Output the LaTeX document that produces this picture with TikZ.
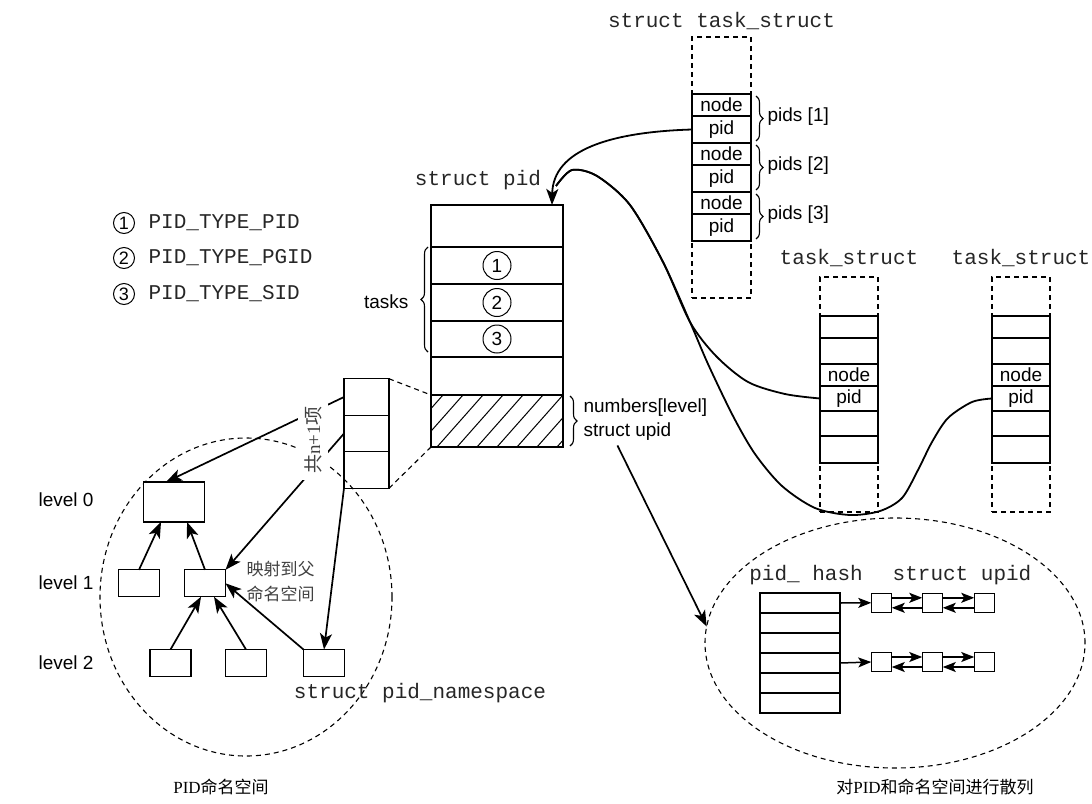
\documentclass[tikz,border=0pt]{standalone}
\usepackage{fontspec}
\setmainfont{Liberation Serif}
\setsansfont{Liberation Sans}
\setmonofont{Liberation Mono}
\newfontfamily\cjk{Noto Sans CJK SC}
\usetikzlibrary{arrows.meta,shapes.geometric,decorations.pathreplacing}

\newcommand{\lab}{\sffamily\fontsize{19}{22}\selectfont}
\newcommand{\ttcode}{\ttfamily\fontsize{21}{24}\selectfont}
\newcommand{\zh}{\cjk\fontsize{17}{25}\selectfont}

\tikzset{
  cell/.style={draw, fill=white, inner sep=0pt, outer sep=0pt, font=\lab},
  box/.style={draw, fill=white, minimum width=41pt, minimum height=27pt, inner sep=0pt, outer sep=0pt},
  dashbox/.style={draw, line width=1.1pt, dash pattern=on 5pt off 4pt, inner sep=0pt, outer sep=0pt},
  dashline/.style={line width=1.1pt, dash pattern=on 5pt off 4pt},
  code/.style={font=\ttcode, text=black!85, inner sep=0pt},
  circnum/.style={circle, draw, line width=1pt, minimum size=28pt, inner sep=0pt, font=\lab},
  legnum/.style={circle, draw, line width=1pt, minimum size=21pt, inner sep=0pt, font=\sffamily\fontsize{18}{18}\selectfont},
  brace/.style={decorate, decoration={brace, amplitude=7pt}, line width=1.1pt},
  arrowtip/.style={-{Stealth[length=16pt,width=12pt,inset=4pt]}},
  link/.style={line width=1.7pt, arrowtip},
  curve/.style={line width=1.8pt},
  hlink/.style={line width=1.5pt, -{Stealth[length=13pt,width=10pt,inset=3pt]}},
}

\begin{document}
\begin{tikzpicture}[x=1pt, y=-1pt, line width=1.2pt]
\useasboundingbox (0,0) rectangle (1092,803);

% struct task_struct with pids[]
\node[code] (lblA) at (721.5,21) {struct task\_struct};
\node[dashbox, minimum width=59pt, minimum height=261pt] (tsA) at (721.5,167.5) {};
\foreach \k/\y in {1/0, 2/49, 3/98} {
  \node[cell, minimum width=59pt, minimum height=22pt] (an\k) at (721.5,105+\y) {node};
  \node[cell, minimum width=59pt, minimum height=27pt] (ap\k) at (721.5,129.5+\y) {pid};
  \draw[brace] ([xshift=5pt,yshift=-2pt]an\k.north east) -- ([xshift=5pt,yshift=2pt]ap\k.south east);
  \node[font=\lab, anchor=west, inner sep=0pt] (pl\k) at (767,117+\y) {pids [\k]};
}

% struct pid
\node[code] (pidlbl) at (478,180) {struct pid};
\node[cell, minimum width=132pt, minimum height=42pt] (pt) at (497,226) {};
\foreach \k/\y/\h in {1/265.5/37, 2/302.5/37, 3/339/36} {
  \node[cell, minimum width=132pt, minimum height=\h pt] (pc\k) at (497,\y) {};
  \node[circnum] (n\k) at (pc\k) {\k};
}
\node[cell, minimum width=132pt, minimum height=38pt] (pb) at (497,376) {};
\node[cell, minimum width=132pt, minimum height=52pt] (pn) at (497,421) {};
\begin{scope}
  \clip (pn.north west) rectangle (pn.south east);
  \foreach \i in {-3,...,7}
    \draw[line width=1pt] (437+20*\i,447) -- ++(46,-52);
\end{scope}
\draw[line width=1.2pt] (pn.north west) rectangle (pn.south east);
\draw[brace] (428,352) -- (428,247);
\node[font=\lab, anchor=east, inner sep=0pt] (tasks) at (409,302) {tasks};
\draw[brace] (570,396) -- (570,446);
\node[font=\lab, anchor=west, inner sep=0pt] (numlvl) at (583,408) {numbers[level]};
\node[font=\lab, anchor=west, inner sep=0pt] (numupid) at (583,432) {struct upid};

% legend
\foreach \k/\y/\t in {1/223/PID, 2/258/PGID, 3/294/SID} {
  \node[legnum] (g\k) at (124,\y) {\k};
  \node[code, anchor=west] (gt\k) at (148,\y) {PID\_TYPE\_\t};
}

% other task_structs
\foreach \nm/\sx in {b/849, c/1021} {
  \node[code] (lbl\nm) at (\sx,258) {task\_struct};
  \node[dashbox, minimum width=58pt, minimum height=235pt] (ts\nm) at (\sx,394.5) {};
  \foreach \yc/\h/\t [count=\i] in {327/22/{}, 351/26/{}, 375/22/node, 398.5/25/pid, 423.5/25/{}, 449.5/27/{}}
    \node[cell, minimum width=58pt, minimum height=\h pt] (\nm\i) at (\sx,\yc) {\t};
}

% pid links
\draw[curve, arrowtip] (ap1.west) .. controls (610,132) and (553,150) .. ([xshift=-11pt]pt.north east);
\draw[curve] plot[smooth] coordinates {(b4.west) (785,394) (748,382) (716,356) (690,322) (663,262) (630,205) (597,176) (572,170) (556,186)};
\draw[curve] plot[smooth] coordinates {(c4.west) (972,402) (948,418) (932,442) (918,470) (902,498) (880,511) (850,515) (815,508) (782,486) (755,454) (733,416) (708,364) (690,322) (663,262) (630,205) (597,176) (572,170) (556,186)};

% numbers[] array and namespaces
\foreach \k/\y in {1/397, 2/433.5, 3/470}
  \node[cell, minimum width=45pt, minimum height=36.5pt] (u\k) at (366.5,\y) {};
\draw[dashline] (u1.north east) -- (pn.north west);
\draw[dashline] (u3.south east) -- (pn.south west);

\node[ellipse, dashbox, minimum width=292pt, minimum height=318pt] (nsreg) at (246,597) {};
\node[box, minimum width=60.6pt, minimum height=40pt] (l0) at (174,502) {};
\node[box] (l1a) at (139,583.3) {};
\node[box] (l1b) at (205,583.3) {};
\node[box] (l2a) at (170.5,663) {};
\node[box] (l2b) at (246,663) {};
\node[box] (l2c) at (324,663) {};
\foreach \k/\y in {0/500, 1/583, 2/663}
  \node[font=\lab, anchor=west, inner sep=0pt] (lv\k) at (38,\y) {level \k};

\draw[link] (u1.west) -- ([xshift=-8pt]l0.north);
\draw[link] (u2.west) -- (l1b.north east);
\draw[link] (u3.south west) -- (l2c.north);
\draw[link] (l1a.north) -- ([xshift=-13pt]l0.south);
\draw[link] (l1b.north) -- ([xshift=13pt]l0.south);
\draw[link] (l2a.north) -- ([xshift=-4pt]l1b.south);
\draw[link] (l2b.north) -- ([xshift=9pt]l1b.south);
\draw[link] (l2c.north west) -- (l1b.east);

\node[font=\cjk\fontsize{19}{19}\selectfont, text=black!75, rotate=90, fill=white, inner sep=6pt] (cnt) at (313,440) {共{\rmfamily n+1}项};
\node[font=\zh, text=black!75, anchor=west, align=left, inner sep=0pt] (maplbl) at (246,582) {映射到父\\命名空间};
\node[code] (nslbl) at (420,693) {struct pid\_namespace};

% pid_hash
\node[ellipse, dashbox, minimum width=380pt, minimum height=250pt] (hashreg) at (895,643) {};
\draw[link] ([xshift=-10pt,yshift=-4pt]numupid.south) -- (hashreg.175);
\node[code] (hashlbl) at (806,575) {pid\_ hash};
\node[code] (upidlbl) at (962,575) {struct upid};
\foreach \i in {1,...,6}
  \node[cell, minimum width=80pt, minimum height=20pt] (h\i) at (800,583+20*\i) {};
\foreach \r/\y in {a/602.8, b/662}
  \foreach \i/\x in {1/881.5, 2/932.5, 3/984.5}
    \node[cell, minimum width=20.5pt, minimum height=19pt] (s\r\i) at (\x,\y) {};
\draw[hlink] (h1.east) -- (sa1.west);
\draw[hlink] (h4.east) -- (sb1.west);
\foreach \r in {a,b}
  \foreach \i/\j in {1/2, 2/3} {
    \draw[hlink] ([yshift=5pt]s\r\i.east) -- ([yshift=5pt]s\r\j.west);
    \draw[hlink] ([yshift=-5pt]s\r\j.west) -- ([yshift=-5pt]s\r\i.east);
  }

% captions
\node[font=\zh] (nscap) at (221,787) {{\rmfamily PID}命名空间};
\node[font=\zh] (hashcap) at (935,787) {对{\rmfamily PID}和命名空间进行散列};
\end{tikzpicture}
\end{document}
